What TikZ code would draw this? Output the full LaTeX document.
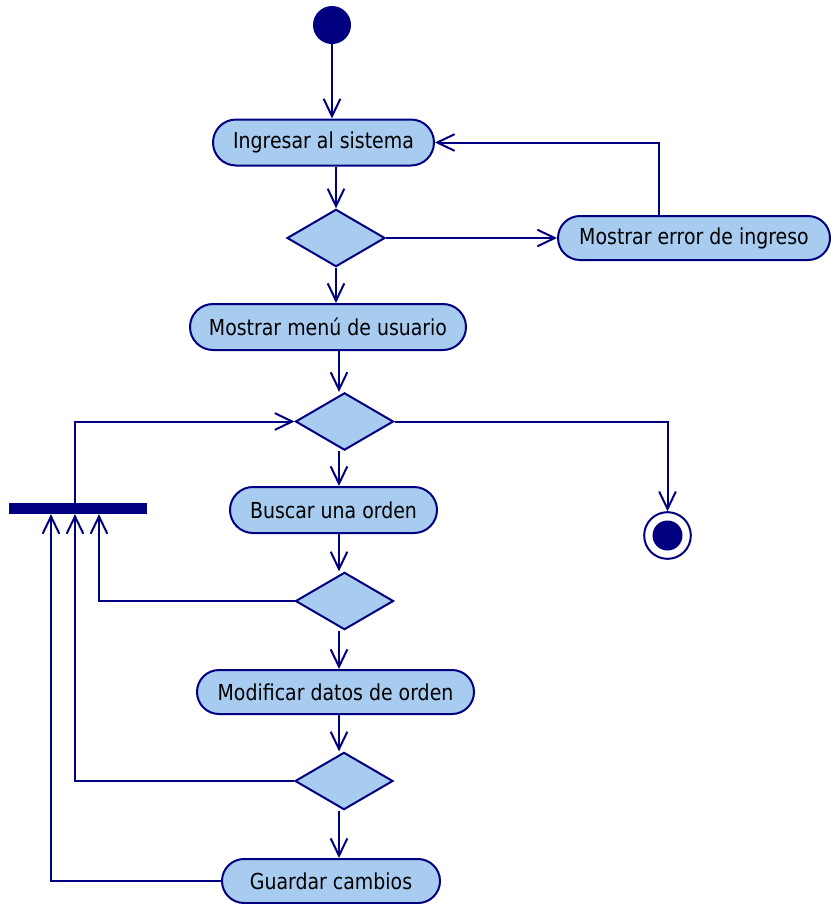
\documentclass[tikz,border=0pt]{standalone}
\usepackage{fontspec}
\setmainfont{DejaVu Sans}[FakeStretch=0.86]
\usetikzlibrary{arrows.meta,shapes.misc,shapes.geometric,calc}
\definecolor{umlline}{RGB}{0,0,128}
\definecolor{umlfill}{RGB}{168,203,240}
\begin{document}
\begin{tikzpicture}[x=0.75pt,y=-0.75pt,
  flow/.style={draw=umlline,line width=1.5pt,-{Straight Barb[length=13pt,width=12.5pt,line width=1.5pt]}},
  link/.style={draw=umlline,line width=1.5pt},
  activity/.style={rounded rectangle,draw=umlline,fill=umlfill,line width=1.5pt,
    inner sep=0pt,font=\fontsize{16.5pt}{18pt}\selectfont,text=black},
  decision/.style={diamond,draw=umlline,fill=umlfill,line width=1.5pt,inner sep=0pt,
    minimum width=73.5pt,minimum height=43pt},
  forkbar/.style={rectangle,fill=umlline,inner sep=0pt,minimum width=103.5pt,minimum height=8pt}]
\useasboundingbox (0,0) rectangle (831,904);

% activity nodes
\node[circle,fill=umlline,inner sep=0pt,minimum size=28.5pt] (start) at (332,25) {};
\node[activity,minimum width=165.75pt,minimum height=34.5pt] (ing) at (323.5,142.5) {Ingresar al sistema};
\node[decision] (d1) at (336,238) {};
\node[activity,minimum width=204pt,minimum height=33pt] (err) at (694,238) {Mostrar error de ingreso};
\node[activity,minimum width=207pt,minimum height=34.5pt] (menu) at (328,327) {Mostrar menú de usuario};
\node[decision] (d2) at (344.5,421.5) {};
\node[forkbar] (bar) at (78,508.5) {};
\node[activity,minimum width=155.25pt,minimum height=34.5pt] (busc) at (333.5,510) {Buscar una orden};
\node[circle,draw=umlline,line width=1.5pt,fill=white,inner sep=0pt,minimum size=35pt] (fin) at (667.5,535.5) {};
\node[circle,fill=umlline,inner sep=0pt,minimum size=22.5pt] at (fin.center) {};
\node[decision] (d3) at (344.5,601) {};
\node[activity,minimum width=207.75pt,minimum height=33pt] (mod) at (335.5,692) {Modificar datos de orden};
\node[decision] (d4) at (344,781) {};
\node[activity,minimum width=163.5pt,minimum height=33pt] (guard) at (331,881) {Guardar cambios};

% vertical lanes used by the connectors
\coordinate (main) at (339,0);
\coordinate (errup) at (659,0);
\coordinate (lane1) at (51,0);
\coordinate (lane2) at (75,0);
\coordinate (lane3) at (99,0);

% connectors
\draw[flow] (start.south) -- (start.south |- ing.north);
\draw[flow] (d1.north |- ing.south) -- (d1.north);
\draw[flow] (d1.east) -- (err.west);
\draw[flow] (err.north -| errup) |- (ing.east);
\draw[flow] (d1.south) -- (d1.south |- menu.north);
\draw[flow] (menu.south -| main) -- (d2.north -| main);
\draw[flow] (bar.north -| lane2) |- (d2.west);
\draw[flow] (d2.east) -| (fin.north);
\draw[flow] (d2.south -| main) -- (busc.north -| main);
\draw[flow] (busc.south -| main) -- (d3.north -| main);
\draw[flow] (d3.west) -| (bar.south -| lane3);
\draw[flow] (d3.south -| main) -- (mod.north -| main);
\draw[flow] (mod.south -| main) -- (d4.north -| main);
\draw[flow] (d4.west) -| (bar.south -| lane2);
\draw[flow] (d4.south -| main) -- (guard.north -| main);
\draw[flow] (guard.west) -| (bar.south -| lane1);
\end{tikzpicture}
\end{document}
